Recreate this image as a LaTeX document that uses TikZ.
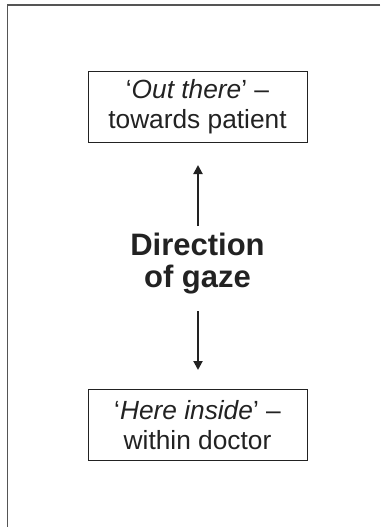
\documentclass[tikz,border=0pt]{standalone}
\usepackage{fontspec}
\setmainfont{Liberation Sans}
\usetikzlibrary{arrows.meta}
\definecolor{framegray}{HTML}{555555}
\definecolor{ink}{HTML}{222222}
\tikzset{
  x=1pt, y=-1pt,
  labelbox/.style={draw=ink, line width=0.9pt, minimum width=219pt, minimum height=71pt,
    align=center, font=\fontsize{26.3}{30}\selectfont, text=ink, inner sep=0pt},
  gaze/.style={align=center, font=\fontsize{31}{32}\selectfont\bfseries, text=ink, inner sep=0pt},
  gazearrow/.style={draw=ink, line width=2pt, -{Triangle[length=9pt, width=9pt]}},
}
\begin{document}
\begin{tikzpicture}
  \useasboundingbox (0,0) rectangle (380,527);
  % open frame: top and left rules
  \draw[framegray, line width=1.6pt] (380,5) -- (7.5,5) -- (7.5,527);
  \node[labelbox] (out) at (197.5,107) {‘\textit{Out there}’ –\\towards patient};
  \node[labelbox] (in) at (197.5,425) {‘\textit{Here inside}’ –\\within doctor};
  \node[gaze] (dir) at (197.5,264) {Direction\\of gaze};
  \coordinate (upstart) at (198,226);
  \coordinate (upend) at (198,165);
  \coordinate (downstart) at (198,311);
  \coordinate (downend) at (198,370);
  \draw[gazearrow] (upstart) -- (upend);
  \draw[gazearrow] (downstart) -- (downend);
\end{tikzpicture}
\end{document}
